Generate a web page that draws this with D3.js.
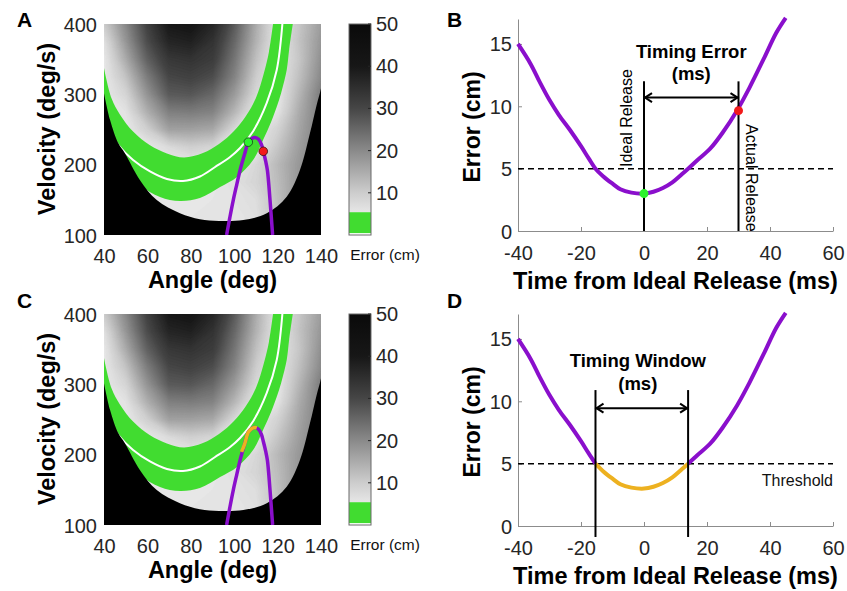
<!DOCTYPE html>
<html>
<head>
<meta charset="utf-8">
<script src="https://cdn.jsdelivr.net/npm/d3@7"></script>
<style>
  body { margin: 0; background: #fff; }
  svg text { font-family: Arial, "Liberation Sans", sans-serif; }
</style>
</head>
<body>
<svg id="fig" width="847" height="591"></svg>
<script>
// ---------- heat map panels (A, C) ----------
var angleTicks = [40, 60, 80, 100, 120, 140];
var velTicks = [100, 200, 300, 400];
var cbTicks = [10, 20, 30, 40, 50];

var gridAngles = [40, 50, 60, 70, 80, 90, 100, 110, 120, 130, 140];
var gridVels = [400, 375, 350, 325, 300, 275, 250, 225, 200, 175, 150, 125, 100];
var errGrid = [
  [10, 20, 31, 40, 41, 37, 27, 15, 5, 11, 17],
  [6.5, 18, 29, 37, 38, 34, 25, 14, 5, 11.5, 18],
  [5, 15, 26, 33, 34, 32, 23, 12, 5, 11, 19],
  [5, 11.5, 22, 30, 31, 29, 21, 10, 5, 12, 20],
  [5, 8.5, 18.5, 27, 27.5, 25, 17.5, 8, 5, 13.5, 22],
  [5, 6, 14.5, 21.5, 22, 21, 13.5, 5, 6, 15, 22],
  [5, 5, 9.5, 16.5, 16.5, 15.5, 8, 5, 9, 16, 22],
  [5, 5, 5, 7.5, 9.5, 8.5, 5, 5, 11, 17, 22],
  [5, 5, 5, 5, 5, 5, 5, 8, 13, 18, 22],
  [5, 5, 5, 5, 5, 5, 6.5, 8.5, 12.5, 18, 22],
  [5, 5, 5, 5, 5, 5.5, 6, 7, 12, 18, 22],
  [5, 5, 5, 5, 5.5, 5.5, 5.5, 6.5, 12, 18, 22],
  [5, 5, 5, 5, 5.5, 5.5, 5.5, 6.5, 12, 18, 22]
];

// [angle, velocity] outlines
var bandInner = [[40, 337.4], [43.5, 294], [47.4, 271], [53.4, 247], [61.2, 227.5], [69, 216],
  [76.9, 210.2], [85.6, 216.6], [93, 229.4], [99.9, 247.9], [105.4, 269.2], [110, 294.8],
  [113.7, 330.3], [116, 360.2], [117.9, 400]];
var bandOuter = [[127, 400], [125.3, 363], [124.2, 334.6], [122, 306.2], [120.2, 287.7], [117, 260.7],
  [113.3, 235.1], [108.7, 206.6], [101.3, 182.5], [93.5, 168.2], [84.2, 152.6], [75, 148.3],
  [65.8, 154], [56.6, 171.1], [47.4, 199.5], [40, 235.1]];
var zeroLine = [[40.9, 256.4], [46.5, 228], [53.4, 206.6], [61.2, 190.3], [69, 179.6], [76.4, 176.8],
  [84.2, 183.2], [91.2, 196.7], [98.1, 210.9], [102.7, 223.7], [108.8, 247.9], [115, 287.7],
  [119.6, 334.6], [122.2, 400]];
var reachEdge = [[40, 301.5], [42.8, 263.5], [46.6, 230.4], [49.7, 216], [56.6, 178], [64.3, 149.7],
  [75, 130.8], [84.2, 122.3], [93, 120], [104.2, 121.3], [115, 130.8], [124.2, 154.4],
  [130.3, 192.4], [134.9, 244.6], [138, 285], [140, 308.6], [141.5, 340]];
var trajectory = [[96.5, 100], [98, 125], [99.6, 150], [101.2, 172], [102.7, 192], [104.8, 215],
  [106.5, 232], [108, 237], [109.6, 238.5], [111.2, 236], [112.5, 229], [113.4, 219],
  [114.5, 205], [115.3, 192], [116.5, 150], [117.7, 100]];
var windowTraj = [[103.4, 204], [104.8, 215], [106.5, 232], [108, 237], [109.6, 238.5], [110.4, 238]];
var idealPoint = [106.5, 232];
var actualPoint = [113.4, 219];

// ---------- error vs time panels (B, D) ----------
var timeTicks = [-40, -20, 0, 20, 40, 60];
var errTicks = [0, 5, 10, 15];
var errCurve = [[-40, 15], [-36, 13.4], [-33, 11.9], [-30, 10.5], [-27, 9.3], [-23.5, 8.1], [-20, 6.8],
  [-17.5, 5.8], [-15.4, 5.0], [-13, 4.4], [-10, 3.8], [-7.5, 3.35], [-4, 3.08], [0, 3.0], [3, 3.15],
  [6, 3.45], [9, 3.9], [12, 4.55], [14, 5.0], [17, 5.7], [21, 6.6], [25, 7.9], [29.5, 9.65],
  [33.5, 11.5], [38, 13.8], [42, 15.9], [45, 17.1]];
var threshold = 5;
var idealT = 0, actualT = 30;
var idealErr = 3.0, actualErr = 9.65;
var windowStart = -15.4, windowEnd = 14.0;

var PURPLE = "#8a0fcc", ORANGE = "#edb120", GREEN = "#41dc30", TXT = "#262626";

var svg = d3.select("#fig");
var defs = svg.append("defs");

var grey = d3.scaleLinear()
  .domain([5, 10, 20, 30, 40, 50])
  .range(["#e8e8e8", "#cdcdcd", "#8a8a8a", "#464646", "#171717", "#0a0a0a"])
  .clamp(true);

function panelLabel(txt, x, y) {
  svg.append("text").attr("x", x).attr("y", y).text(txt)
    .attr("font-size", 21).attr("font-weight", "bold").attr("fill", "#000");
}

function drawHeat(y0, id, showDots) {
  var x = d3.scaleLinear().domain([40, 140]).range([104, 321]);
  var y = d3.scaleLinear().domain([100, 400]).range([y0 + 211, y0]);

  defs.append("clipPath").attr("id", "clip" + id)
    .append("rect").attr("x", 104).attr("y", y0).attr("width", 217).attr("height", 211);

  var g = svg.append("g").attr("clip-path", "url(#clip" + id + ")");
  g.append("rect").attr("x", 104).attr("y", y0).attr("width", 217).attr("height", 211)
    .attr("fill", grey(5));

  var nx = gridAngles.length, ny = gridVels.length;
  var da = gridAngles[1] - gridAngles[0], dv = gridVels[0] - gridVels[1];
  var proj = d3.geoTransform({
    point: function (px, py) {
      this.stream.point(x(gridAngles[0] + (px - 0.5) * da), y(gridVels[0] - (py - 0.5) * dv));
    }
  });
  var cpath = d3.geoPath(proj);
  var conts = d3.contours().size([nx, ny]).thresholds(d3.range(5, 50.5, 0.5))(errGrid.flat());
  g.selectAll("path.cont").data(conts).enter().append("path")
    .attr("class", "cont")
    .attr("d", cpath)
    .attr("fill", function (d) { return grey(d.value + 0.25); })
    .attr("stroke", function (d) { return grey(d.value + 0.25); })
    .attr("stroke-width", 0.3);

  var line = d3.line().x(function (d) { return x(d[0]); }).y(function (d) { return y(d[1]); })
    .curve(d3.curveCatmullRom);

  g.append("path")
    .attr("d", line(bandInner) + line(bandOuter).replace(/^M/, "L") + "Z")
    .attr("fill", GREEN);
  g.append("path").attr("d", line(zeroLine))
    .attr("fill", "none").attr("stroke", "#fff").attr("stroke-width", 2);

  g.append("path")
    .attr("d", line(reachEdge) + "L" + x(141.5) + "," + y(98) + "L" + x(39) + "," + y(98) +
      "L" + x(39) + "," + y(301.5) + "Z")
    .attr("fill", "#000");

  g.append("path").attr("d", line(trajectory))
    .attr("fill", "none").attr("stroke", PURPLE).attr("stroke-width", 3.5);

  if (showDots) {
    g.append("circle").attr("cx", x(idealPoint[0])).attr("cy", y(idealPoint[1])).attr("r", 4.3)
      .attr("fill", "#2df22d").attr("stroke", "#1a3a1a").attr("stroke-width", 0.8);
    g.append("circle").attr("cx", x(actualPoint[0])).attr("cy", y(actualPoint[1])).attr("r", 4.3)
      .attr("fill", "#f21a1a").attr("stroke", "#3a1010").attr("stroke-width", 0.8);
  } else {
    g.append("path").attr("d", line(windowTraj))
      .attr("fill", "none").attr("stroke", ORANGE).attr("stroke-width", 3.5);
  }

  // axes
  var ax = svg.append("g").attr("transform", "translate(0," + (y0 + 211) + ")")
    .call(d3.axisBottom(x).tickValues(angleTicks).tickSize(0).tickFormat(String));
  ax.select(".domain").remove();
  ax.selectAll("text").attr("y", 28).attr("dy", null)
    .attr("font-size", 20).attr("fill", TXT).attr("font-family", null);

  var ay = svg.append("g").attr("transform", "translate(104,0)")
    .call(d3.axisLeft(y).tickValues(velTicks).tickSize(0).tickPadding(7).tickFormat(String));
  ay.select(".domain").remove();
  ay.selectAll("text").attr("dy", "0.35em")
    .attr("font-size", 20).attr("fill", TXT).attr("font-family", null);

  svg.append("text").attr("x", 212.5).attr("y", y0 + 264).attr("text-anchor", "middle")
    .attr("font-size", 23.5).attr("font-weight", "bold").text("Angle (deg)");
  svg.append("text").attr("transform", "translate(55," + (y0 + 105) + ") rotate(-90)")
    .attr("text-anchor", "middle")
    .attr("font-size", 23.5).attr("font-weight", "bold").text("Velocity (deg/s)");

  // colour bar
  var cb = d3.scaleLinear().domain([0, 50]).range([y0 + 211, y0]);
  var gid = "cbgrad" + id;
  var grad = defs.append("linearGradient").attr("id", gid)
    .attr("x1", 0).attr("y1", 1).attr("x2", 0).attr("y2", 0);
  var lo = 5.4;
  grey.domain().forEach(function (v) {
    var vv = Math.max(v, lo);
    grad.append("stop").attr("offset", (vv - lo) / (50 - lo)).attr("stop-color", grey(vv));
  });
  svg.append("rect").attr("x", 349).attr("y", cb(50)).attr("width", 22).attr("height", cb(lo) - cb(50))
    .attr("fill", "url(#" + gid + ")");
  svg.append("rect").attr("x", 349).attr("y", cb(lo)).attr("width", 22).attr("height", cb(0.4) - cb(lo))
    .attr("fill", GREEN);
  svg.append("rect").attr("x", 349).attr("y", cb(0.4)).attr("width", 22).attr("height", cb(0) - cb(0.4))
    .attr("fill", "#fff");
  svg.append("rect").attr("x", 349).attr("y", cb(50)).attr("width", 22).attr("height", cb(0) - cb(50))
    .attr("fill", "none").attr("stroke", "#6a6a6a").attr("stroke-width", 1);
  svg.selectAll(null).data(cbTicks).enter().append("line")
    .attr("x1", 368).attr("x2", 371).attr("y1", cb).attr("y2", cb)
    .attr("stroke", TXT).attr("stroke-width", 1);
  svg.selectAll(null).data(cbTicks).enter().append("text")
    .attr("x", 376).attr("y", cb).attr("dy", "0.35em")
    .attr("font-size", 20).attr("fill", TXT).text(String);
  svg.append("text").attr("x", 385).attr("y", y0 + 236).attr("text-anchor", "middle")
    .attr("font-size", 15.5).attr("fill", "#111").text("Error (cm)");
}

function arrowH(g, x1, x2, yy) {
  g.append("line").attr("x1", x1).attr("x2", x2).attr("y1", yy).attr("y2", yy)
    .attr("stroke", "#000").attr("stroke-width", 2);
  g.append("path").attr("d", "M" + (x1 + 8) + "," + (yy - 4.5) + "L" + (x1 + 1) + "," + yy + "L" + (x1 + 8) + "," + (yy + 4.5))
    .attr("fill", "none").attr("stroke", "#000").attr("stroke-width", 2);
  g.append("path").attr("d", "M" + (x2 - 8) + "," + (yy - 4.5) + "L" + (x2 - 1) + "," + yy + "L" + (x2 - 8) + "," + (yy + 4.5))
    .attr("fill", "none").attr("stroke", "#000").attr("stroke-width", 2);
}

function drawCurve(y0, variant) {
  var x = d3.scaleLinear().domain([-40, 60]).range([518, 833]);
  var y = d3.scaleLinear().domain([0, 17]).range([y0 + 212, y0]);
  var g = svg.append("g");

  var ax = g.append("g").attr("transform", "translate(0," + y(0) + ")")
    .call(d3.axisBottom(x).tickValues(timeTicks).tickSizeInner(-4).tickSizeOuter(0).tickFormat(String));
  ax.selectAll("text").attr("y", 29).attr("dy", null)
    .attr("font-size", 20).attr("fill", TXT).attr("font-family", null);
  var ay = g.append("g").attr("transform", "translate(" + x(-40) + ",0)")
    .call(d3.axisLeft(y).tickValues(errTicks).tickSizeInner(-4).tickSizeOuter(0).tickPadding(6).tickFormat(String));
  ay.selectAll("text").attr("dy", "0.35em")
    .attr("font-size", 20).attr("fill", TXT).attr("font-family", null);
  g.selectAll(".domain, .tick line").attr("stroke", "#8c8c8c");

  g.append("line").attr("x1", x(-40)).attr("x2", x(60)).attr("y1", y(threshold)).attr("y2", y(threshold))
    .attr("stroke", "#000").attr("stroke-width", 1.5).attr("stroke-dasharray", "6,4");

  var line = d3.line().x(function (d) { return x(d[0]); }).y(function (d) { return y(d[1]); })
    .curve(d3.curveCatmullRom);

  if (variant === "B") {
    g.append("path").attr("d", line(errCurve))
      .attr("fill", "none").attr("stroke", PURPLE).attr("stroke-width", 4);
    [idealT, actualT].forEach(function (t) {
      g.append("line").attr("x1", x(t)).attr("x2", x(t)).attr("y1", y(0)).attr("y2", y(12))
        .attr("stroke", "#000").attr("stroke-width", 2);
    });
    arrowH(g, x(idealT), x(actualT), y(10.7));
    g.append("circle").attr("cx", x(idealT)).attr("cy", y(idealErr)).attr("r", 4.5).attr("fill", "#2df22d");
    g.append("circle").attr("cx", x(actualT)).attr("cy", y(actualErr)).attr("r", 4.5).attr("fill", "#f21a1a");
    g.append("text").attr("x", x(15)).attr("y", y0 + 39).attr("text-anchor", "middle")
      .attr("font-size", 18.5).attr("font-weight", "bold").text("Timing Error");
    g.append("text").attr("x", x(15)).attr("y", y0 + 61).attr("text-anchor", "middle")
      .attr("font-size", 18.5).attr("font-weight", "bold").text("(ms)");
    g.append("text").attr("transform", "translate(" + (x(idealT) - 12) + "," + (y0 + 148) + ") rotate(-90)")
      .attr("font-size", 16).text("Ideal Release");
    g.append("text").attr("transform", "translate(" + (x(actualT) + 7) + "," + (y0 + 105) + ") rotate(90)")
      .attr("font-size", 16).text("Actual Release");
  } else {
    var left = errCurve.filter(function (d) { return d[0] <= windowStart; });
    var mid = errCurve.filter(function (d) { return d[0] >= windowStart && d[0] <= windowEnd; });
    var right = errCurve.filter(function (d) { return d[0] >= windowEnd; });
    [left, right].forEach(function (seg) {
      g.append("path").attr("d", line(seg))
        .attr("fill", "none").attr("stroke", PURPLE).attr("stroke-width", 4);
    });
    g.append("path").attr("d", line(mid))
      .attr("fill", "none").attr("stroke", ORANGE).attr("stroke-width", 4);
    [windowStart, windowEnd].forEach(function (t) {
      g.append("line").attr("x1", x(t)).attr("x2", x(t)).attr("y1", y(-0.88)).attr("y2", y(10.9))
        .attr("stroke", "#000").attr("stroke-width", 2);
    });
    arrowH(g, x(windowStart), x(windowEnd), y(9.45));
    var cx = (x(windowStart) + x(windowEnd)) / 2 - 4;
    g.append("text").attr("x", cx).attr("y", y0 + 53).attr("text-anchor", "middle")
      .attr("font-size", 18.5).attr("font-weight", "bold").text("Timing Window");
    g.append("text").attr("x", cx).attr("y", y0 + 76).attr("text-anchor", "middle")
      .attr("font-size", 18.5).attr("font-weight", "bold").text("(ms)");
    g.append("text").attr("x", x(60)).attr("y", y(threshold) + 22).attr("text-anchor", "end")
      .attr("font-size", 16).attr("fill", "#111").text("Threshold");
  }

  svg.append("text").attr("x", 675.5).attr("y", y0 + 270).attr("text-anchor", "middle")
    .attr("font-size", 23.5).attr("font-weight", "bold").text("Time from Ideal Release (ms)");
  svg.append("text").attr("transform", "translate(480," + (y0 + 108) + ") rotate(-90)")
    .attr("text-anchor", "middle")
    .attr("font-size", 23).attr("font-weight", "bold").text("Error (cm)");
}

drawHeat(24, "A", true);
drawHeat(314, "C", false);
drawCurve(19, "B");
drawCurve(314, "D");

panelLabel("A", 17, 27);
panelLabel("B", 447, 27);
panelLabel("C", 17, 308);
panelLabel("D", 447, 308);
</script>
</body>
</html>
